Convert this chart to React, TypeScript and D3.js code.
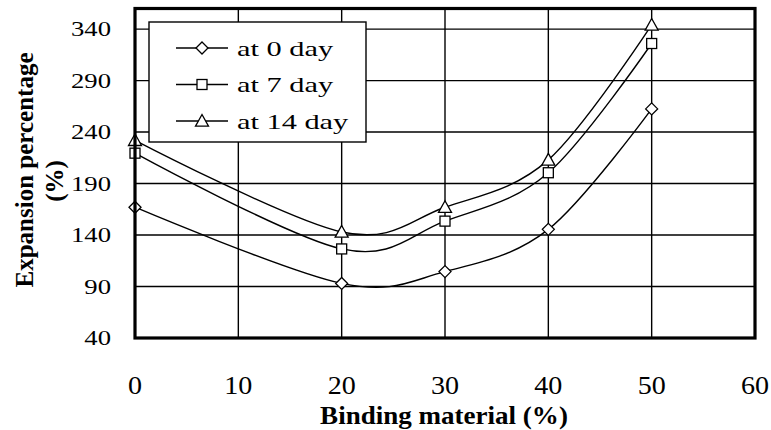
import React from "react";
import * as d3 from "d3";

const xValues = [0, 20, 30, 40, 50];
const day0 = [167, 93, 104.5, 145.5, 262.5];
const day7 = [219.5, 126.5, 153.5, 200.5, 326];
const day14 = [232, 143, 167, 213, 344];
const seriesNames = ["at 0 day", "at 7 day", "at 14 day"];
const markerTypes = ["diamond", "square", "triangle"];
const xTicks = [0, 10, 20, 30, 40, 50, 60];
const yTicks = [40, 90, 140, 190, 240, 290, 340];

const W = 771, H = 430;
const L = 135, R = 755, T = 8.5, B = 338;
const FONT = '"Times New Roman", "Liberation Serif", Tinos, Times, serif';

function Marker({ type, x, y }: { type: string; x: number; y: number }) {
  const st = { fill: "white", stroke: "black", strokeWidth: 1.3 };
  if (type === "diamond") {
    const s = 6;
    return <path d={`M${x},${y - s}L${x + s},${y}L${x},${y + s}L${x - s},${y}Z`} {...st} />;
  }
  if (type === "square") {
    const s = 5;
    return <rect x={x - s} y={y - s} width={2 * s} height={2 * s} {...st} />;
  }
  const s = 6.5;
  return <path d={`M${x},${y - s}L${x + s},${y + s * 0.8}L${x - s},${y + s * 0.8}Z`} {...st} />;
}

function SText({ x, y, sx = 1, size, anchor = "start", bold = false, children, rotate = 0 }: any) {
  return (
    <g transform={`translate(${x},${y}) rotate(${rotate}) scale(${sx},1)`}>
      <text
        x={0}
        y={0}
        textAnchor={anchor}
        fill="black"
        style={{ fontFamily: FONT, fontSize: size + "px", fontWeight: bold ? 700 : 400 }}
      >
        {children}
      </text>
    </g>
  );
}

export default function App() {
  const x = d3.scaleLinear().domain([0, 60]).range([L, R]);
  const y = d3.scaleLinear().domain([40, 360]).range([B, T]);
  const series = [day0, day7, day14];
  const line = d3
    .line<number>()
    .x((_, i) => x(xValues[i]))
    .y((d) => y(d))
    .curve(d3.curveCatmullRom.alpha(0));

  return (
    <svg width={W} height={H} style={{ position: "absolute", left: 0, top: 0 }}>
      <rect x={0} y={0} width={W} height={H} fill="white" />
      {xTicks.slice(1, -1).map((t) => (
        <line key={"gx" + t} x1={x(t)} x2={x(t)} y1={T} y2={B} stroke="black" strokeWidth={1.4} />
      ))}
      {yTicks.slice(1).map((t) => (
        <line key={"gy" + t} x1={L} x2={R} y1={y(t)} y2={y(t)} stroke="black" strokeWidth={1.4} />
      ))}
      {series.map((s, k) => (
        <path key={"l" + k} d={line(s) || ""} fill="none" stroke="black" strokeWidth={1.4} />
      ))}
      {series.map((s, k) =>
        s.map((v, i) => <Marker key={`m${k}-${i}`} type={markerTypes[k]} x={x(xValues[i])} y={y(v)} />)
      )}
      <rect x={L} y={T} width={R - L} height={B - T} fill="none" stroke="black" strokeWidth={3.2} />
      <rect x={149} y={22} width={217} height={120} fill="white" stroke="black" strokeWidth={1.4} />
      {seriesNames.map((n, k) => {
        const ly = 48 + k * 36.5;
        return (
          <g key={"lg" + k}>
            <line x1={176} x2={228} y1={ly} y2={ly} stroke="black" strokeWidth={1.5} />
            <Marker type={markerTypes[k]} x={202} y={ly} />
            <SText x={237} y={ly + 7.5} sx={1.38} size={22}>
              {n}
            </SText>
          </g>
        );
      })}
      {yTicks.map((t) => (
        <SText key={"yt" + t} x={111} y={y(t) + 7} sx={1.27} size={21} anchor="end">
          {t}
        </SText>
      ))}
      {xTicks.map((t) => (
        <SText key={"xt" + t} x={x(t)} y={394} sx={1.08} size={26} anchor="middle">
          {t}
        </SText>
      ))}
      <SText x={444} y={424} size={26} sx={1.04} bold anchor="middle">
        Binding material (%)
      </SText>
      <SText x={33} y={170} size={25} bold anchor="middle" rotate={-90}>
        Expansion percentage
      </SText>
      <SText x={63} y={181} size={25} bold anchor="middle" rotate={-90}>
        (%)
      </SText>
    </svg>
  );
}
